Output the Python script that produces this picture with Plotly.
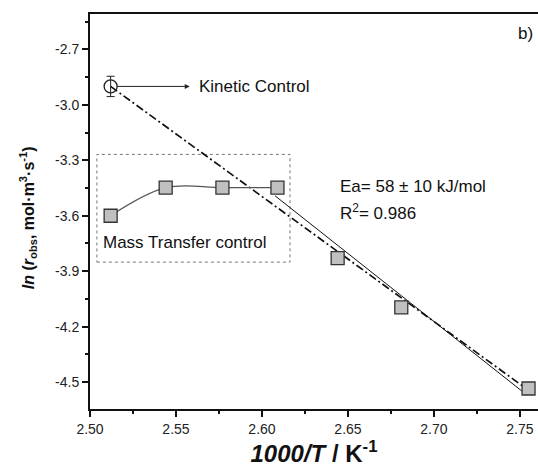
import plotly.graph_objects as go

# Data
kin_x = [2.512]
kin_y = [-2.900]
kin_err = [0.055]

mt_x = [2.512, 2.544, 2.577, 2.609]
mt_y = [-3.600, -3.448, -3.448, -3.448]

fit_pts_x = [2.644, 2.681, 2.755]
fit_pts_y = [-3.829, -4.096, -4.535]

solid_x = [2.6076, 2.754]
solid_y = [-3.492, -4.570]

dashdot_x = [2.512, 2.755]
dashdot_y = [-2.900, -4.545]

box_x = [2.504, 2.6163]
box_y = [-3.851, -3.268]

FONT = "Arial, Liberation Sans, sans-serif"
fig = go.Figure()

# dotted box
fig.add_shape(type="rect", x0=box_x[0], x1=box_x[1], y0=box_y[0], y1=box_y[1],
              line=dict(color="#777", width=1, dash="dot"), layer="below")

fig.add_trace(go.Scatter(x=dashdot_x, y=dashdot_y, mode="lines",
                         line=dict(color="#111", width=1.7, dash="8px,3px,2px,3px"),
                         showlegend=False, hoverinfo="skip"))
fig.add_trace(go.Scatter(x=solid_x, y=solid_y, mode="lines",
                         line=dict(color="#111", width=1),
                         showlegend=False, hoverinfo="skip"))
fig.add_trace(go.Scatter(x=mt_x, y=mt_y, mode="lines",
                         line=dict(color="#555", width=1.2, shape="spline", smoothing=1),
                         showlegend=False, hoverinfo="skip"))

all_sq_x = mt_x + fit_pts_x
all_sq_y = mt_y + fit_pts_y
fig.add_trace(go.Scatter(x=all_sq_x, y=all_sq_y, mode="markers",
                         marker=dict(symbol="square", size=13, color="#c0c0c0",
                                     line=dict(color="#333", width=1.3)),
                         showlegend=False, cliponaxis=False))
fig.add_trace(go.Scatter(x=kin_x, y=kin_y, mode="markers",
                         marker=dict(symbol="circle-open", size=13, color="#222",
                                     line=dict(color="#222", width=1.3)),
                         error_y=dict(type="data", array=kin_err, color="#222",
                                      thickness=1, width=4),
                         showlegend=False))

# annotations
fig.add_annotation(x=2.558, y=kin_y[0], ax=2.5148, ay=kin_y[0], xref="x", yref="y",
                   axref="x", ayref="y", showarrow=True, arrowhead=2, arrowsize=1,
                   arrowwidth=1, arrowcolor="#222", text="")
fig.add_annotation(x=2.5622, y=kin_y[0], xref="x", yref="y", showarrow=False,
                   text="Kinetic Control", xanchor="left", yanchor="middle",
                   font=dict(family=FONT, size=17, color="#111"))
fig.add_annotation(x=2.5065, y=-3.746, xref="x", yref="y", showarrow=False,
                   text="Mass Transfer control", xanchor="left", yanchor="middle",
                   font=dict(family=FONT, size=17, color="#111"))
fig.add_annotation(x=2.6442, y=-3.44, xref="x", yref="y", showarrow=False,
                   text="Ea= 58 ± 10 kJ/mol", xanchor="left", yanchor="middle",
                   font=dict(family=FONT, size=17, color="#111"))
fig.add_annotation(x=2.6442, y=-3.582, xref="x", yref="y", showarrow=False,
                   text="R<sup>2</sup>= 0.986", xanchor="left", yanchor="middle",
                   font=dict(family=FONT, size=17, color="#111"))
fig.add_annotation(x=2.7475, y=-2.615, xref="x", yref="y", showarrow=False,
                   text="b)", xanchor="left", yanchor="middle",
                   font=dict(family=FONT, size=17, color="#111"))

# y-axis title as rotated annotation
fig.add_annotation(x=0, xref="paper", xshift=-62, y=-3.613, yref="y", showarrow=False,
                   textangle=-90, xanchor="center", yanchor="middle",
                   text="<b><i>ln</i> (<i>r</i><sub>obs</sub>, mol·m<sup>3</sup>·s<sup>-1</sup>)</b>",
                   font=dict(family=FONT, size=16, color="#111"))

fig.update_xaxes(range=[2.5, 2.7605], tickvals=[2.50, 2.55, 2.60, 2.65, 2.70, 2.75],
                 ticktext=["2.50", "2.55", "2.60", "2.65", "2.70", "2.75"],
                 ticks="outside", ticklen=6, tickwidth=1.5, tickcolor="#111",
                 minor=dict(dtick=0.025, tick0=2.5, ticks="outside", ticklen=3,
                            tickwidth=1.5, tickcolor="#111", showgrid=False),
                 showline=True, mirror=True, linecolor="#111", linewidth=2, showgrid=False,
                 zeroline=False, automargin=False,
                 tickfont=dict(family=FONT, size=14, color="#222"),
                 title=dict(text="<b><i>1000/T</i> / K<sup>-1</sup></b>",
                            font=dict(family=FONT, size=24, color="#111"), standoff=6))
fig.update_yaxes(range=[-4.646, -2.508], tickvals=[-2.7, -3.0, -3.3, -3.6, -3.9, -4.2, -4.5],
                 ticktext=["-2.7", "-3.0", "-3.3", "-3.6", "-3.9", "-4.2", "-4.5"],
                 ticks="outside", ticklen=6, tickwidth=1.5, tickcolor="#111",
                 minor=dict(dtick=0.15, tick0=-2.7, ticks="outside", ticklen=3,
                            tickwidth=1.5, tickcolor="#111", showgrid=False),
                 showline=True, linecolor="#111", linewidth=2, showgrid=False,
                 zeroline=False, automargin=False,
                 tickfont=dict(family=FONT, size=14, color="#222"))

fig.update_layout(width=538, height=469, margin=dict(l=90, r=0, t=14, b=60),
                  plot_bgcolor="white", paper_bgcolor="white", showlegend=False)

fig.write_html("out.html", config={"displayModeBar": False},
               post_script="document.body.style.margin='0';document.body.style.overflow='hidden';")
